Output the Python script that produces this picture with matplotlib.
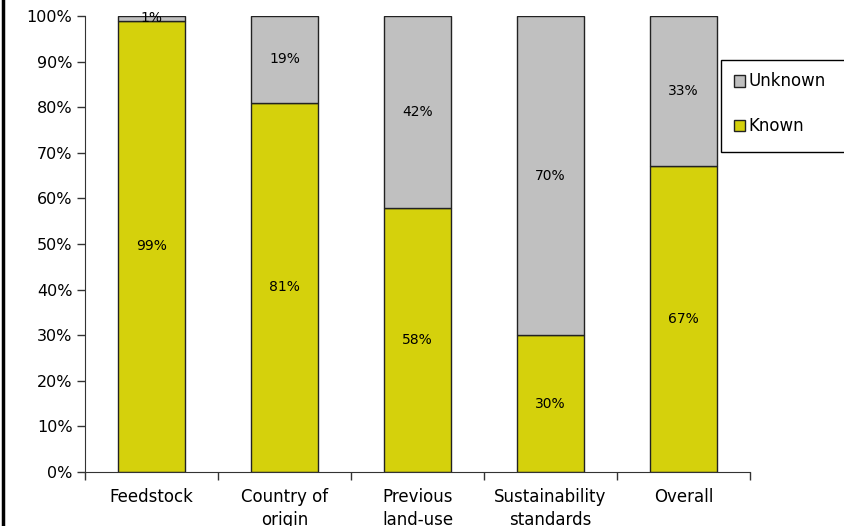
import numpy as np
import matplotlib.pyplot as plt
from matplotlib.lines import Line2D
from matplotlib.patches import Rectangle

categories = ['Feedstock', 'Country of\norigin', 'Previous\nland-use',
              'Sustainability\nstandards', 'Overall']
known = [99, 81, 58, 30, 67]
unknown = [1, 19, 42, 70, 33]

yellow = '#D5D10C'
grey = '#C0C0C0'

plt.rcParams['font.family'] = 'DejaVu Sans'

fig = plt.figure(figsize=(8.44, 5.26), dpi=100)
ax = fig.add_axes([85 / 844, 54 / 526, 665 / 844, 456 / 526])

x = np.arange(len(categories))
b1 = ax.bar(x, known, width=0.5, color=yellow, edgecolor='#222222', linewidth=1, label='Known')
b2 = ax.bar(x, unknown, width=0.5, bottom=known, color=grey, edgecolor='#222222', linewidth=1,
            label='Unknown')

for i in range(len(x)):
    ax.text(x[i], known[i] / 2, f'{known[i]}%', ha='center', va='center', fontsize=10)
    ax.text(x[i], known[i] + unknown[i] / 2, f'{unknown[i]}%', ha='center', va='center',
            fontsize=10)

ax.set_xlim(-0.5, len(x) - 0.5)
ax.set_ylim(0, 100)
ax.set_yticks(np.arange(0, 101, 10))
ax.set_yticklabels([f'{v}%' for v in range(0, 101, 10)], fontsize=11.5)
ax.set_xticks(np.arange(-0.5, len(x), 1.0))
ax.set_xticklabels([])
ax.tick_params(axis='y', length=6, width=1, color='#333333', pad=3)
ax.tick_params(axis='x', length=6, width=1, color='#333333')
for i, c in enumerate(categories):
    ax.text(x[i], -3.6, c, ha='center', va='top', fontsize=12, linespacing=1.3, clip_on=False)

for s in ['top', 'right']:
    ax.spines[s].set_visible(False)
ax.spines['left'].set_color('#333333')
ax.spines['bottom'].set_color('#333333')

# legend box runs off the right edge like in the original
box = Rectangle((721 / 844, (526 - 152) / 526), 140 / 844, 92 / 526,
                transform=fig.transFigure, facecolor='white', edgecolor='black',
                linewidth=1, zorder=2)
fig.add_artist(box)
handles = [b2, b1]
leg = fig.legend(handles, ['Unknown', 'Known'], loc='upper left',
                 bbox_to_anchor=(721 / 844, 466 / 526), bbox_transform=fig.transFigure,
                 frameon=False, fontsize=12, handlelength=0.7,
                 handleheight=0.7, handletextpad=0.2, labelspacing=1.6, borderpad=0.75,
                 borderaxespad=0)
leg.set_zorder(5)

fig.add_artist(Line2D([3 / 844, 3 / 844], [0, 1], color='black', linewidth=2.5,
                      transform=fig.transFigure))

fig.savefig('out.png', dpi=100)
